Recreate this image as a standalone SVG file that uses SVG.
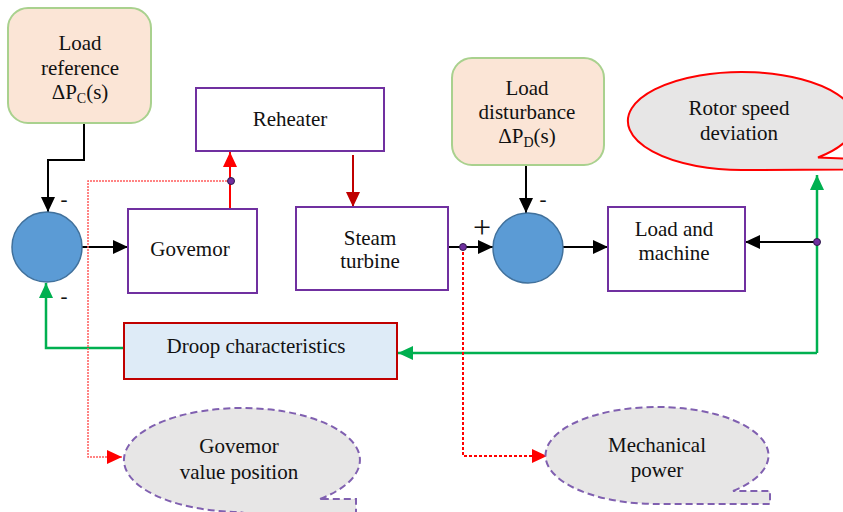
<svg xmlns="http://www.w3.org/2000/svg" width="843" height="512" viewBox="0 0 843 512">
<style>
text{font-family:"Liberation Serif","Times New Roman",serif;font-size:21px;fill:#111;text-anchor:middle}
.blk{fill:#fff;stroke:#7030a0;stroke-width:2}
.inp{fill:#fbe5d6;stroke:#a9d18e;stroke-width:2}
.sum{fill:#5b9bd5;stroke:#41719c;stroke-width:1.5}
.call{fill:#e7e6e6;stroke:#8060b0;stroke-width:2;stroke-dasharray:7,4}
.k{fill:none;stroke:#000;stroke-width:2}
.g{fill:none;stroke:#00b050;stroke-width:2.5}
.dot{fill:#7030a0;stroke:#2f1a4a;stroke-width:1}
.plus{font-size:32px}
</style>
<defs>
<marker id="ak" markerUnits="userSpaceOnUse" markerWidth="15" markerHeight="14" refX="15" refY="7" orient="auto"><path d="M0,0 L15,7 L0,14 Z" fill="#000"/></marker>
<marker id="ar" markerUnits="userSpaceOnUse" markerWidth="15" markerHeight="14" refX="15" refY="7" orient="auto"><path d="M0,0 L15,7 L0,14 Z" fill="#ff0000"/></marker>
<marker id="ad" markerUnits="userSpaceOnUse" markerWidth="15" markerHeight="14" refX="15" refY="7" orient="auto"><path d="M0,0 L15,7 L0,14 Z" fill="#c00000"/></marker>
<marker id="ag" markerUnits="userSpaceOnUse" markerWidth="15" markerHeight="14" refX="15" refY="7" orient="auto"><path d="M0,0 L15,7 L0,14 Z" fill="#00b050"/></marker>
</defs>

<g id="connectors">
<path class="k" d="M84,123 V160 H48 V212" marker-end="url(#ak)"/>
<path class="k" d="M82,247 H128" marker-end="url(#ak)"/>
<path d="M230,209 V152" fill="none" stroke="#ff0000" stroke-width="2" marker-end="url(#ar)"/>
<path d="M353,155 V207" fill="none" stroke="#c00000" stroke-width="2" marker-end="url(#ad)"/>
<path class="k" d="M448,247 H493" marker-end="url(#ak)"/>
<path class="k" d="M526,165 V213" marker-end="url(#ak)"/>
<path class="k" d="M563,247 H608" marker-end="url(#ak)"/>
<path class="k" d="M817,242 H745" marker-end="url(#ak)"/>
<path class="g" d="M817,353 V175" marker-end="url(#ag)"/>
<path class="g" d="M817,353 H398" marker-end="url(#ag)"/>
<path class="g" d="M124,348 H46 V283" marker-end="url(#ag)"/>
<path d="M230,181 H88 V457 H122" fill="none" stroke="#ff5c5c" stroke-width="1.5" stroke-dasharray="2,1" marker-end="url(#ar)"/>
<path d="M463,247 V456 H547" fill="none" stroke="#ff0000" stroke-width="2" stroke-dasharray="3,2" marker-end="url(#ar)"/>
<circle class="dot" cx="231" cy="181" r="3.5"/>
<circle class="dot" cx="463" cy="247" r="3.5"/>
<circle class="dot" cx="817" cy="242" r="3.5"/>
</g>

<g id="load-reference">
<rect class="inp" x="8" y="8" width="143" height="115" rx="20"/>
<text x="80" y="50">Load</text>
<text x="80" y="75">reference</text>
<text x="80" y="99">ΔP<tspan font-size="14" dy="4">C</tspan><tspan dy="-4">(s)</tspan></text>
</g>

<g id="sum1">
<circle class="sum" cx="47" cy="247" r="35"/>
<text x="64" y="206">-</text>
<text x="64" y="303">-</text>
</g>

<g id="governor">
<rect class="blk" x="128" y="209" width="129" height="84"/>
<text x="190" y="256">Govemor</text>
</g>

<g id="reheater">
<rect class="blk" x="196" y="88" width="188" height="63"/>
<text x="290" y="126">Reheater</text>
</g>

<g id="steam-turbine">
<rect class="blk" x="296" y="207" width="152" height="83"/>
<text x="370" y="245">Steam</text>
<text x="370" y="268">turbine</text>
</g>

<g id="load-disturbance">
<rect class="inp" x="452" y="58" width="152" height="107" rx="20"/>
<text x="527" y="95">Load</text>
<text x="527" y="119">disturbance</text>
<text x="527" y="143">ΔP<tspan font-size="14" dy="4">D</tspan><tspan dy="-4">(s)</tspan></text>
</g>

<g id="sum2">
<circle class="sum" cx="528" cy="248" r="35"/>
<text x="543" y="206">-</text>
<text class="plus" x="482" y="238">+</text>
</g>

<g id="load-machine">
<rect class="blk" x="608" y="207" width="137" height="84"/>
<text x="674" y="236">Load and</text>
<text x="674" y="260">machine</text>
</g>

<g id="rotor-speed">
<path d="M818,157.5 A114,49 0 1,0 745,170 L1100,168 Z" fill="#e7e6e6" stroke="#ff0000" stroke-width="2"/>
<text x="739" y="115">Rotor speed</text>
<text x="739" y="140">deviation</text>
</g>

<g id="droop">
<rect x="124" y="323" width="273" height="56" fill="#deebf7" stroke="#c00000" stroke-width="2"/>
<text x="256" y="353">Droop characteristics</text>
</g>

<g id="governor-valve">
<path class="call" d="M320,499 A118,52 0 1,0 240,512 L356,540 L356,499 Z"/>
<text x="239" y="453">Govemor</text>
<text x="239" y="479">value position</text>
</g>

<g id="mechanical-power">
<path class="call" d="M733,491 A111.5,48.5 0 1,0 658.5,504 L770,504 L770,491 Z"/>
<text x="657" y="452">Mechanical</text>
<text x="657" y="477">power</text>
</g>
</svg>
